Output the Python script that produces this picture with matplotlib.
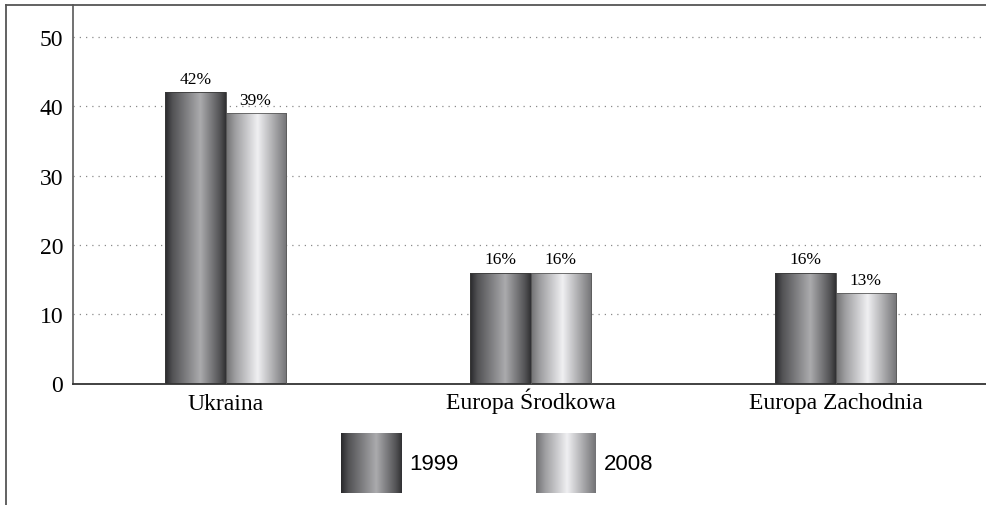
import numpy as np
import matplotlib
matplotlib.use("Agg")
import matplotlib.pyplot as plt
from matplotlib.lines import Line2D

categories = ["Ukraina", "Europa Środkowa", "Europa Zachodnia"]
series = ["1999", "2008"]
val_1999 = [42, 16, 16]
val_2008 = [39, 16, 13]
yticks = [0, 10, 20, 30, 40, 50]

# gradient stops (position, gray level) per series
grad_1999 = ([0.0, 0.12, 0.58, 0.9, 1.0], [0.16, 0.32, 0.67, 0.33, 0.19])
grad_2008 = ([0.0, 0.15, 0.52, 0.85, 1.0], [0.44, 0.62, 0.94, 0.6, 0.45])

W, H = 986, 506


def gradient_img(stops, n=200):
    pos, lev = stops
    g = np.interp(np.linspace(0, 1, n), pos, lev)
    img = np.stack([g, g, g + 0.01], axis=-1)[None, :, :]
    return np.clip(img, 0, 1)


plt.rcParams['font.family'] = ['Liberation Serif', 'DejaVu Serif']

fig = plt.figure(figsize=(W / 100, H / 100), dpi=100)
ax = fig.add_axes([73 / W, 1 - 384.5 / H, 1 - 73 / W, (384.5 - 6) / H])

x = np.arange(len(categories))
bw = 0.197
bars1 = ax.bar(x - bw / 2, val_1999, bw, facecolor='none', edgecolor='#3a3a3a', lw=0.6, zorder=3)
bars2 = ax.bar(x + bw / 2, val_2008, bw, facecolor='none', edgecolor='#5a5a5a', lw=0.6, zorder=3)

for bars, stops, vals in [(bars1, grad_1999, val_1999), (bars2, grad_2008, val_2008)]:
    img = gradient_img(stops)
    for p, v in zip(bars, vals):
        x0, y0 = p.get_xy()
        ax.imshow(img, extent=[x0, x0 + p.get_width(), y0, y0 + p.get_height()],
                  aspect='auto', zorder=2, interpolation='bilinear')
        ax.annotate(f"{v}%", (x0 + p.get_width() / 2, v), xytext=(0, 4),
                    textcoords='offset points', ha='center', va='bottom', fontsize=12.5)

ax.set_xlim(-0.5, (W - 225.5) / 305)
ax.set_ylim(0, 54.6)
ax.set_yticks(yticks)
ax.set_xticks(x)
ax.set_xticklabels(categories, fontsize=17, va='baseline')
ax.tick_params(axis='y', labelsize=17, length=0, pad=7)
ax.tick_params(axis='x', length=0, pad=18)
for t in yticks[1:]:
    ax.axhline(t, color='#8a8a8a', lw=0.9, ls=(0, (1, 4)), zorder=1)

ax.spines['top'].set_visible(False)
ax.spines['right'].set_visible(False)
ax.spines['left'].set_color('#666666')
ax.spines['left'].set_linewidth(1.3)
ax.spines['bottom'].set_color('#333333')
ax.spines['bottom'].set_linewidth(1.3)

# legend swatches
for i, (name, stops) in enumerate(zip(series, [grad_1999, grad_2008])):
    lx = (341 + i * 195) / W
    lax = fig.add_axes([lx, (H - 494) / H, 60 / W, 60 / H])
    lax.imshow(gradient_img(stops), extent=[0, 1, 0, 1], aspect='auto', interpolation='bilinear')
    lax.axis('off')
    fig.text(lx + 68 / W, (H - 465) / H, name, fontsize=16, va='center', ha='left',
             family=['Liberation Sans', 'DejaVu Sans'])

# outer frame
fig.add_artist(Line2D([6 / W, 1], [1 - 6 / H, 1 - 6 / H], transform=fig.transFigure, color='#555555', lw=1.3))
fig.add_artist(Line2D([6 / W, 6 / W], [0, 1 - 6 / H], transform=fig.transFigure, color='#555555', lw=1.3))

fig.savefig("out.png", dpi=100)
